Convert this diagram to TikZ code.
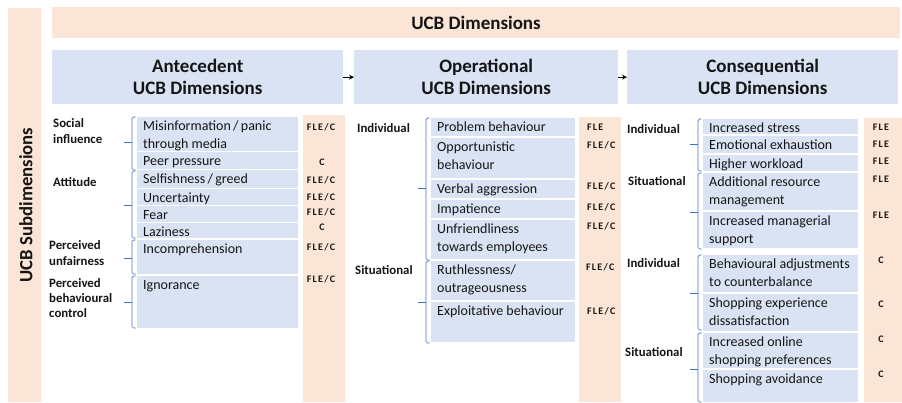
\documentclass[tikz,border=0pt]{standalone}
\usepackage{fontspec}
\setmainfont{Carlito}
\newfontfamily\tagfont[LetterSpace=12]{Carlito}
\usetikzlibrary{arrows.meta}
\definecolor{peach}{HTML}{FBE5D6}
\definecolor{paleblue}{HTML}{DAE3F3}
\definecolor{bracecol}{HTML}{4472C4}
\definecolor{ink}{HTML}{151515}
\tikzset{
  peachbox/.style={fill=peach, draw=none, inner sep=0pt, anchor=north west},
  itembox/.style={fill=paleblue, draw=none, inner sep=0pt, anchor=north west},
  header/.style={fill=paleblue, draw=none, inner sep=0pt, anchor=north west, align=center,
    text=ink, font=\fontsize{19}{22}\selectfont\bfseries},
  itemtext/.style={anchor=north west, inner sep=0pt, align=left, text=ink,
    font=\fontsize{14}{18}\selectfont},
  lbl/.style={anchor=north west, inner sep=0pt, align=left, text=ink,
    font=\fontsize{12.8}{16}\selectfont\bfseries},
  tag/.style={inner sep=0pt, text=ink, anchor=base, font=\tagfont\fontsize{10}{12}\selectfont\bfseries},
  tagw/.style={tag, anchor=base west},
  bracepath/.style={draw=bracecol, line width=0.7pt, rounded corners=1.5pt},
  arr/.style={-{Stealth[length=5pt,width=5pt]}, line width=0.8pt, black}
}
\newcommand\ucbitem[6]{%
  \node[itembox, minimum width={#4-#2}, minimum height={#5-#3}] (#1) at (#2,#3) {};
  \node[itemtext] (#1t) at ([shift={(6,1)}]#1.north west) {\strut #6};
}
\newcommand\ucbbrace[4]{%
  \draw[bracepath] (#1+3.5,#2) -- (#1,#2) -- (#1,#3) -- (#1+3.5,#3);
  \draw[bracepath] (#1,#4) -- (#1-8.5,#4);
}
\begin{document}
\begin{tikzpicture}[x=1pt,y=-1pt]
\useasboundingbox (0,0) rectangle (902,402);

% frames
\node[peachbox, minimum width=848, minimum height=31] (topbar) at (52,7) {};
\node[text=ink, font=\fontsize{19}{22}\selectfont\bfseries] (toptitle) at (476,22.5) {UCB Dimensions};
\node[peachbox, minimum width=33, minimum height=394] (sidebar) at (8,8) {};
\node[rotate=90, text=ink, font=\fontsize{18.7}{22}\selectfont\bfseries] (sidetitle) at (26,205) {UCB Subdimensions};

% headers
\node[header, minimum width=291, minimum height=54] (hA) at (52,50) {Antecedent\\UCB Dimensions};
\node[header, minimum width=264, minimum height=54] (hO) at (354,50) {Operational\\UCB Dimensions};
\node[header, minimum width=271, minimum height=54] (hC) at (627,50) {Consequential\\UCB Dimensions};
\draw[arr] (hA.east) -- (hO.west);
\draw[arr] (hO.east) -- (hC.west);

% tag columns
\node[peachbox, minimum width=42, minimum height=287] (colA) at (303,115) {};
\node[peachbox, minimum width=42, minimum height=285] (colO) at (579,117) {};
\node[peachbox, minimum width=38, minimum height=284] (colC) at (864,118) {};

% antecedent
\ucbitem{a1}{137}{117}{298}{151}{Misinformation\,/\,panic\\through media}
\ucbitem{a2}{137}{152}{298}{169}{Peer pressure}
\ucbitem{a3}{137}{170}{298}{188}{Selfishness\,/\,greed}
\ucbitem{a4}{137}{189}{298}{205}{Uncertainty}
\ucbitem{a5}{137}{206}{298}{222}{Fear}
\ucbitem{a6}{137}{223}{298}{238}{Laziness}
\ucbitem{a7}{137}{240}{298}{274}{Incomprehension}
\ucbitem{a8}{137}{276}{298}{328}{Ignorance}
\ucbbrace{132}{117}{170}{142}
\ucbbrace{132}{171}{238}{205}
\ucbbrace{132}{240}{274}{258}
\ucbbrace{132}{276}{328}{302}
\node[lbl] (lA1) at (53,116.3) {\strut Social\\influence};
\node[lbl] (lA2) at (53,175.3) {\strut Attitude};
\node[lbl] (lA3) at (49,238.3) {\strut Perceived\\unfairness};
\node[lbl, font=\fontsize{12.8}{15}\selectfont\bfseries] (lA4) at (49,276.8) {\strut Perceived\\behavioural\\control};
\node[tag] (a1g) at (321,130.3) {FLE/C};
\node[tag] (a2g) at (322,165.3) {C};
\node[tag] (a3g) at (321,183.3) {FLE/C};
\node[tag] (a4g) at (321,200.3) {FLE/C};
\node[tag] (a5g) at (321,215.3) {FLE/C};
\node[tag] (a6g) at (322,230.3) {C};
\node[tag] (a7g) at (321,250.3) {FLE/C};
\node[tag] (a8g) at (321,282.3) {FLE/C};

% operational
\ucbitem{o1}{431}{118}{575}{136}{Problem behaviour}
\ucbitem{o2}{431}{138}{575}{178}{Opportunistic\\behaviour}
\ucbitem{o3}{431}{180}{575}{198}{Verbal aggression}
\ucbitem{o4}{431}{200}{575}{218}{Impatience}
\ucbitem{o5}{431}{220}{575}{259}{Unfriendliness\\towards employees}
\ucbitem{o6}{431}{261}{575}{300}{Ruthlessness/\\outrageousness}
\ucbitem{o7}{431}{302}{575}{342}{Exploitative behaviour}
\ucbbrace{426}{118}{260}{188}
\ucbbrace{426}{261}{343}{302}
\node[lbl] (lO1) at (357,121.3) {\strut Individual};
\node[lbl] (lO2) at (355,263.3) {\strut Situational};
\node[tagw] (o1g) at (587,130.3) {FLE};
\node[tagw] (o2g) at (587,148.3) {FLE/C};
\node[tagw] (o3g) at (587,189.3) {FLE/C};
\node[tagw] (o4g) at (587,210.3) {FLE/C};
\node[tagw] (o5g) at (587,229.3) {FLE/C};
\node[tagw] (o6g) at (586,270.3) {FLE/C};
\node[tagw] (o7g) at (587,314.3) {FLE/C};

% consequential
\ucbitem{c1}{703}{119}{858}{134}{Increased stress}
\ucbitem{c2}{703}{136}{858}{153}{Emotional exhaustion}
\ucbitem{c3}{703}{155}{858}{171}{Higher workload}
\ucbitem{c4}{703}{173}{858}{210}{Additional resource\\management}
\ucbitem{c5}{703}{212}{858}{248}{Increased managerial\\support}
\ucbitem{c6}{703}{255}{858}{292}{Behavioural adjustments\\to counterbalance}
\ucbitem{c7}{703}{294}{858}{331}{Shopping experience\\dissatisfaction}
\ucbitem{c8}{703}{333}{858}{368}{Increased online\\shopping preferences}
\ucbitem{c9}{703}{370}{858}{402}{Shopping avoidance}
\ucbbrace{698}{119}{171}{144}
\ucbbrace{698}{173}{249}{212}
\ucbbrace{698}{255}{330}{293}
\ucbbrace{698}{333}{402}{369}
\node[lbl] (lC1) at (627,122.3) {\strut Individual};
\node[lbl] (lC2) at (628,174.3) {\strut Situational};
\node[lbl] (lC3) at (627,256.3) {\strut Individual};
\node[lbl] (lC4) at (625,345.3) {\strut Situational};
\node[tag] (c1g) at (881,130.3) {FLE};
\node[tag] (c2g) at (881,147.3) {FLE};
\node[tag] (c3g) at (881,164.3) {FLE};
\node[tag] (c4g) at (881,182.3) {FLE};
\node[tag] (c5g) at (881,218.3) {FLE};
\node[tag] (c6g) at (881,263.3) {C};
\node[tag] (c7g) at (881,307.3) {C};
\node[tag] (c8g) at (881,342.3) {C};
\node[tag] (c9g) at (881,377.3) {C};
\end{tikzpicture}
\end{document}
